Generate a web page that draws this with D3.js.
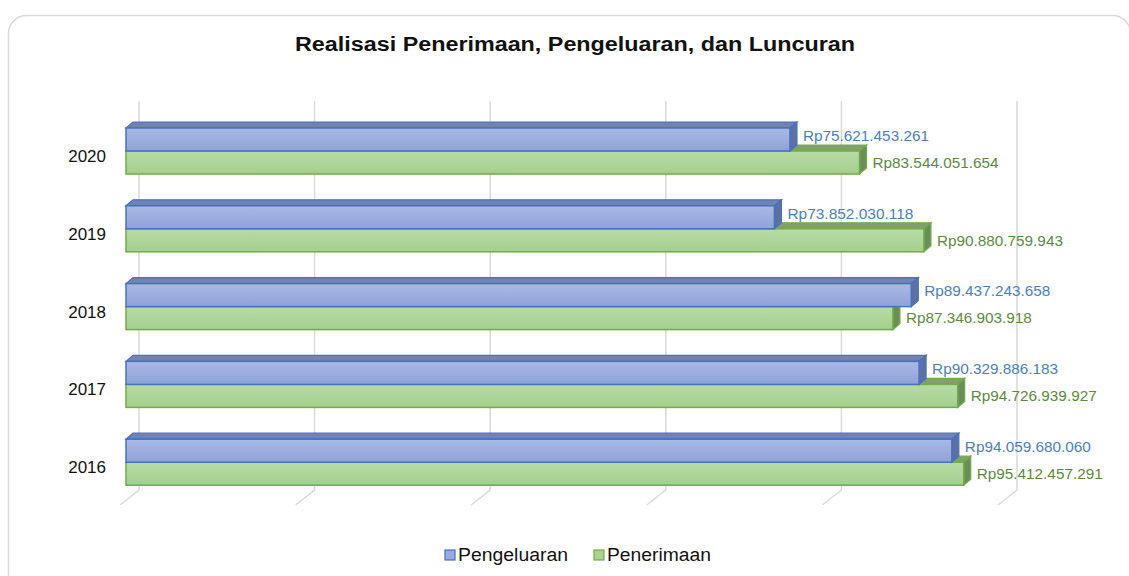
<!DOCTYPE html>
<html>
<head>
<meta charset="utf-8">
<script src="https://cdn.jsdelivr.net/npm/d3@7"></script>
<style>
  body { margin: 0; background: #fff; }
  svg { display: block; font-family: "Liberation Sans", Arial, sans-serif; }
</style>
</head>
<body>
<script>
var years = ["2020", "2019", "2018", "2017", "2016"];
var pengeluaran = [75621453261, 73852030118, 89437243658, 90329886183, 94059680060];
var penerimaan = [83544051654, 90880759943, 87346903918, 94726939927, 95412457291];
var ticks = [0, 20e9, 40e9, 60e9, 80e9, 100e9];

var width = 1129, height = 576;

var svg = d3.select("body").append("svg")
    .attr("width", width)
    .attr("height", height);

var defs = svg.append("defs");
function grad(id, c1, c2) {
    var g = defs.append("linearGradient").attr("id", id)
        .attr("x1", 0).attr("y1", 0).attr("x2", 0).attr("y2", 1);
    g.append("stop").attr("offset", "0%").attr("stop-color", c1);
    g.append("stop").attr("offset", "100%").attr("stop-color", c2);
}
grad("gBlue", "#aab9e5", "#8fa2d8");
grad("gGreen", "#b8dba6", "#a4cf8e");

// outer frame
svg.append("rect")
    .attr("x", 8.5).attr("y", 15.5)
    .attr("width", 1122).attr("height", 620)
    .attr("rx", 18)
    .attr("fill", "#fff")
    .attr("stroke", "#d9d9d9")
    .attr("stroke-width", 1.5);

// the picture is a little wider than the font, so stretch text to fit
svg.append("text")
    .attr("x", 295).attr("y", 51)
    .attr("font-size", 20)
    .attr("font-weight", "bold")
    .attr("fill", "#111")
    .attr("textLength", 560)
    .attr("lengthAdjust", "spacingAndGlyphs")
    .text("Realisasi Penerimaan, Pengeluaran, dan Luncuran");

// front plane x origin, back wall offset
var x0 = 126;
var x = d3.scaleLinear().domain([0, 100e9]).range([0, 878]);
var y = d3.scaleBand().domain(years).range([101, 490]);

var backDx = 13, floorDx = 19, floorDy = 15;
var dx = 7, dy = 6;
var barH = 23;

// gridlines on back wall + floor
var grid = svg.append("g");
grid.selectAll("path").data(ticks).enter().append("path")
    .attr("d", function (t) {
        var bx = x0 + backDx + x(t);
        return "M" + bx + ",101V490L" + (bx - floorDx) + "," + (490 + floorDy);
    })
    .attr("fill", "none")
    .attr("stroke", "#d9d9d9")
    .attr("stroke-width", 1.5);

function bar(g, top, val, cFill, cStroke, cTop, cSide) {
    var w = x(val);
    g.append("path")
        .attr("d", "M" + x0 + "," + top + "L" + (x0 + dx) + "," + (top - dy) +
            "H" + (x0 + w + dx) + "L" + (x0 + w) + "," + top + "Z")
        .attr("fill", cTop).attr("stroke", cStroke).attr("stroke-width", 1.2);
    g.append("path")
        .attr("d", "M" + (x0 + w) + "," + top + "L" + (x0 + w + dx) + "," + (top - dy) +
            "V" + (top + barH - dy) + "L" + (x0 + w) + "," + (top + barH) + "Z")
        .attr("fill", cSide).attr("stroke", cStroke).attr("stroke-width", 1.2);
    g.append("rect")
        .attr("x", x0).attr("y", top)
        .attr("width", w).attr("height", barH)
        .attr("fill", cFill).attr("stroke", cStroke).attr("stroke-width", 1.5);
}

function fmt(v) {
    return "Rp" + d3.format(",")(v).replace(/,/g, ".");
}

var rows = svg.append("g");
years.forEach(function (yr, i) {
    var g = rows.append("g");
    var top = y(yr) + 27;
    bar(g, top + barH, penerimaan[i], "url(#gGreen)", "#70ad47", "#82a06f", "#6b8d5a");
    bar(g, top, pengeluaran[i], "url(#gBlue)", "#4472c4", "#7383b0", "#5d6fa5");

    g.append("text")
        .attr("x", x0 + x(pengeluaran[i]) + dx + 6)
        .attr("y", top + barH / 2 - 4)
        .attr("dy", "0.35em")
        .attr("font-size", 15)
        .attr("textLength", 126)
        .attr("lengthAdjust", "spacingAndGlyphs")
        .attr("fill", "#4a7fc4")
        .text(fmt(pengeluaran[i]));
    g.append("text")
        .attr("x", x0 + x(penerimaan[i]) + dx + 6)
        .attr("y", top + barH + barH / 2)
        .attr("dy", "0.35em")
        .attr("font-size", 15)
        .attr("textLength", 126)
        .attr("lengthAdjust", "spacingAndGlyphs")
        .attr("fill", "#5b8c3b")
        .text(fmt(penerimaan[i]));

    g.append("text")
        .attr("x", 106)
        .attr("y", top + barH + 5)
        .attr("dy", "0.35em")
        .attr("text-anchor", "end")
        .attr("font-size", 17)
        .attr("fill", "#111")
        .text(yr);
});

// legend
var legend = [
    { name: "Pengeluaran", fill: "#9aabdd", stroke: "#4472c4", x: 445, w: 110 },
    { name: "Penerimaan", fill: "#a9d293", stroke: "#70ad47", x: 594, w: 104 }
];
var lg = svg.append("g").selectAll("g").data(legend).enter().append("g");
lg.append("rect")
    .attr("x", function (d) { return d.x; }).attr("y", 550)
    .attr("width", 10).attr("height", 10)
    .attr("fill", function (d) { return d.fill; })
    .attr("stroke", function (d) { return d.stroke; })
    .attr("stroke-width", 1.2);
lg.append("text")
    .attr("x", function (d) { return d.x + 13; }).attr("y", 555)
    .attr("dy", "0.35em")
    .attr("font-size", 18)
    .attr("textLength", function (d) { return d.w; })
    .attr("lengthAdjust", "spacingAndGlyphs")
    .attr("fill", "#111")
    .text(function (d) { return d.name; });
</script>
</body>
</html>
